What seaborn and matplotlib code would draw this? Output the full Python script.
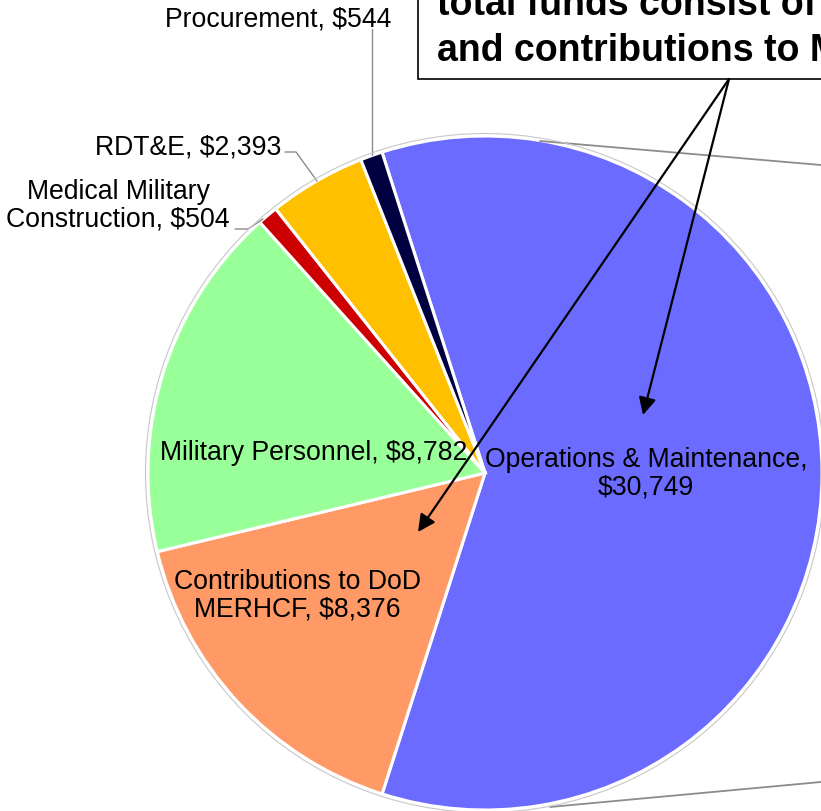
import matplotlib
matplotlib.use("Agg")
import matplotlib.pyplot as plt
import seaborn as sns
from matplotlib.patches import Rectangle, Circle

# ---- data ----
categories = ["Operations & Maintenance", "Contributions to DoD MERHCF",
              "Military Personnel", "Medical Military Construction",
              "RDT&E", "Procurement"]
values = [30749, 8376, 8782, 504, 2393, 544]
labels = ["Operations & Maintenance,\n$30,749", "Contributions to DoD\nMERHCF, $8,376",
          "Military Personnel, $8,782", "Medical Military\nConstruction, $504",
          "RDT&E, $2,393", "Procurement, $544"]
colors = ["#6B6BFF", "#FF9966", "#99FF99", "#CC0000", "#FFC000", "#000040"]
callout_lines = ["total funds consist of", "and contributions to M"]

sns.set_theme(style="white")
plt.rcParams["font.family"] = ["Liberation Sans", "DejaVu Sans"]
plt.rcParams["text.color"] = "black"

W, H = 821, 812
fig = plt.figure(figsize=(W / 100, H / 100), dpi=100)
ax = fig.add_axes([0, 0, 1, 1])

def Y(y):
    return H - y

cx, cy, R = 485, Y(474), 337
start = 107.8

wedges, _ = ax.pie(values, colors=colors, startangle=start, counterclock=False,
                   center=(cx, cy), radius=R, frame=True,
                   wedgeprops=dict(edgecolor="white", linewidth=2.2))
ax.set_xlim(0, W)
ax.set_ylim(0, H)
ax.axis("off")
ax.set_aspect("equal")
ax.add_patch(Circle((cx, cy), R + 2.5, fill=False, edgecolor="#c8c8c8", lw=0.8, zorder=3))

fs = 19.2
# inside labels
ax.text(646, Y(474), labels[0], ha="center", va="center", fontsize=fs, linespacing=1.08, zorder=5)
ax.text(297, Y(596), labels[1], ha="center", va="center", fontsize=fs, linespacing=1.08, zorder=5)
ax.text(314, Y(453), labels[2], ha="center", va="center", fontsize=fs, zorder=5)
# outside labels with leaders
ax.text(118, Y(206), labels[3], ha="center", va="center", fontsize=fs, linespacing=1.08)
ax.plot([235, 248, 263], [Y(230), Y(230), Y(220)], color="#8c8c8c", lw=1.0)
ax.text(281, Y(148), labels[4], ha="right", va="center", fontsize=fs)
ax.plot([285, 296, 317], [Y(153), Y(153), Y(182)], color="#8c8c8c", lw=1.0)
ax.text(391, Y(19), labels[5], ha="right", va="center", fontsize=fs)
ax.plot([372, 372], [Y(30), Y(156)], color="#8c8c8c", lw=1.0)

# connector lines to secondary chart
ax.plot([540, 821], [Y(142), Y(166)], color="#8c8c8c", lw=1.3)
ax.plot([550, 821], [Y(808), Y(783)], color="#8c8c8c", lw=1.3)

# callout box (cut off by the image edge, as in the reference)
ax.add_patch(Rectangle((418, Y(80)), 520, 200, facecolor="white", edgecolor="black", lw=1.2, zorder=6))
ax.text(437, Y(15), callout_lines[0], ha="left", va="baseline", fontsize=27,
        fontweight="bold", zorder=7)
ax.text(437, Y(61), callout_lines[1], ha="left", va="baseline", fontsize=27,
        fontweight="bold", zorder=7)

for tip in [(643, Y(416)), (418, Y(533))]:
    ax.annotate("", xy=tip, xytext=(729, Y(80)),
                arrowprops=dict(arrowstyle="-|>", color="black", lw=1.6,
                                mutation_scale=26, shrinkA=0, shrinkB=0), zorder=8)

fig.savefig("out.png", dpi=100)
